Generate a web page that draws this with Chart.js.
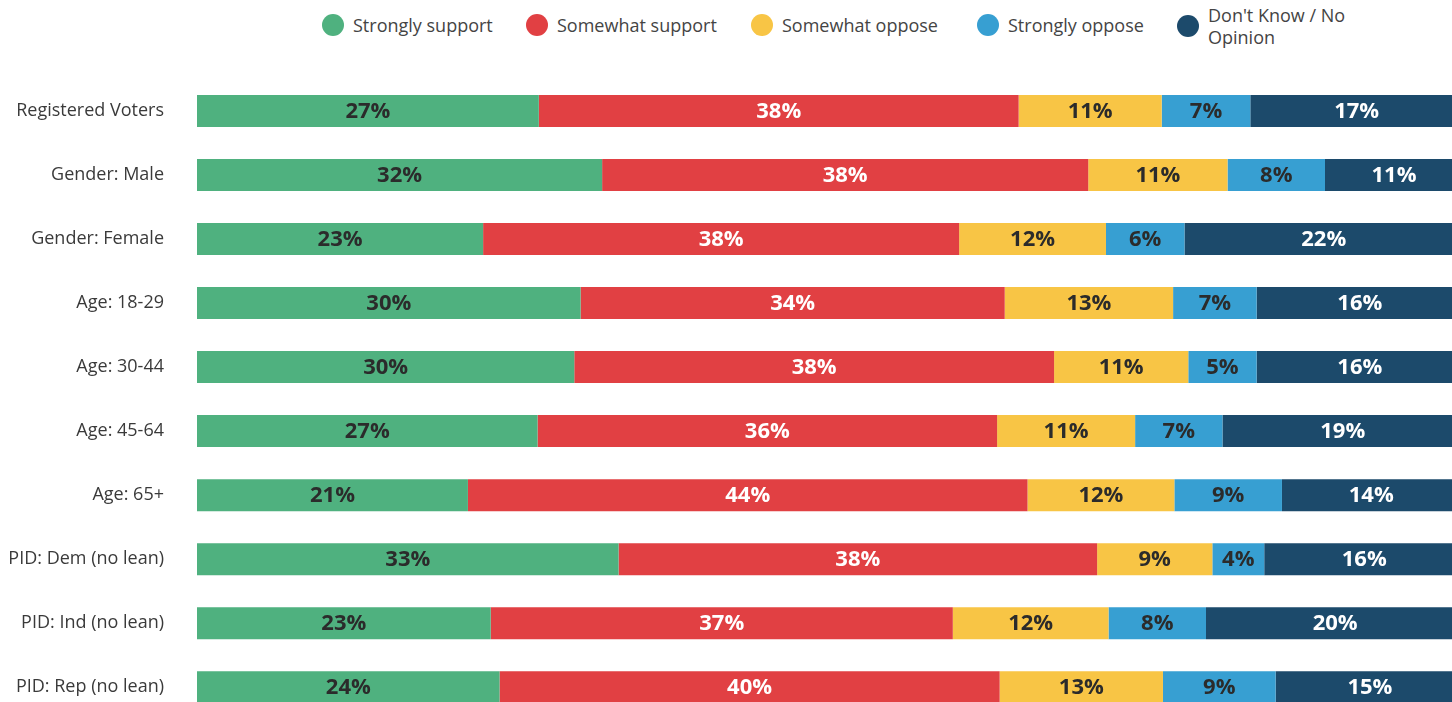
<!DOCTYPE html>
<html>
<head>
<meta charset="utf-8">
<script src="https://cdn.jsdelivr.net/npm/chart.js@4"></script>
<style>
  html, body { margin: 0; padding: 0; background: #fff; overflow: hidden; }
  body { width: 1452px; height: 702px; position: relative; font-family: "Open Sans", Lato, sans-serif; }
  #myChart { position: absolute; left: 0; top: 0; }
  .lg { position: absolute; top: 14px; display: flex; align-items: flex-start; color: #444; font-size: 18px; line-height: 22px; }
  .lg i { display: block; width: 22px; height: 22px; border-radius: 50%; margin-right: 9px; }
</style>
</head>
<body>
<div id="legend"></div>
<canvas id="myChart" width="1470" height="763"></canvas>
<script>
// groups (top to bottom)
var categories = ['Registered Voters', 'Gender: Male', 'Gender: Female', 'Age: 18-29', 'Age: 30-44',
                  'Age: 45-64', 'Age: 65+', 'PID: Dem (no lean)', 'PID: Ind (no lean)', 'PID: Rep (no lean)'];

// shares in percent (labels show them rounded)
var stronglySupport = [27.0, 32.0, 22.6, 30.3, 29.8, 26.9, 21.4, 33.3, 23.2, 23.9];
var somewhatSupport = [37.9, 38.4, 37.6, 33.5, 37.9, 36.3, 44.2, 37.8, 36.5, 39.5];
var somewhatOppose  = [11.3, 11.0, 11.6, 13.3, 10.6, 10.9, 11.6, 9.1, 12.3, 12.9];
var stronglyOppose  = [7.0, 7.7, 6.2, 6.6, 5.4, 6.9, 8.5, 4.1, 7.7, 8.9];
var dontKnow        = [16.8, 10.9, 22.0, 16.3, 16.3, 19.0, 14.1, 15.8, 20.4, 14.9];

var seriesNames = ['Strongly support', 'Somewhat support', 'Somewhat oppose', 'Strongly oppose', ["Don't Know / No", 'Opinion']];
var seriesColors = ['#4fb17f', '#e14043', '#f8c545', '#379fd2', '#1c4a6b'];
var labelColors = ['#2b2b2b', '#ffffff', '#2b2b2b', '#2b2b2b', '#ffffff'];
var legendLeft = [322, 526, 751, 977, 1177];

// html legend
var legend = document.getElementById('legend');
seriesNames.forEach(function(name, i) {
    var d = document.createElement('div');
    d.className = 'lg';
    d.style.left = legendLeft[i] + 'px';
    var dot = document.createElement('i');
    dot.style.background = seriesColors[i];
    var t = document.createElement('span');
    if (Array.isArray(name)) {
        t.innerHTML = name.join('<br>');
        d.style.top = '4px';
        dot.style.marginTop = '11px';
    } else {
        t.textContent = name;
    }
    d.appendChild(dot);
    d.appendChild(t);
    legend.appendChild(d);
});

// value labels in the middle of each segment
var segmentLabels = {
    id: 'segmentLabels',
    afterDatasetsDraw: function(chart) {
        var ctx = chart.ctx;
        ctx.save();
        ctx.font = 'bold 22px "Open Sans", Lato, sans-serif';
        ctx.textAlign = 'center';
        ctx.textBaseline = 'middle';
        chart.data.datasets.forEach(function(ds, i) {
            ctx.fillStyle = labelColors[i];
            chart.getDatasetMeta(i).data.forEach(function(bar, j) {
                ctx.fillText(Math.round(ds.data[j]) + '%', (bar.x + bar.base) / 2, bar.y + 1);
            });
        });
        ctx.restore();
    }
};

var allSeries = [stronglySupport, somewhatSupport, somewhatOppose, stronglyOppose, dontKnow];

var ctx = document.getElementById('myChart').getContext('2d');
var myChart = new Chart(ctx, {
    type: 'bar',
    data: {
        labels: categories,
        datasets: allSeries.map(function(vals, i) {
            return {
                label: Array.isArray(seriesNames[i]) ? seriesNames[i].join(' ') : seriesNames[i],
                data: vals,
                backgroundColor: seriesColors[i],
                borderWidth: 0,
                barPercentage: 0.5,
                categoryPercentage: 1.0,
            };
        }),
    },
    plugins: [segmentLabels],
    options: {
        indexAxis: 'y',
        responsive: false,
        animation: false,
        layout: { padding: { top: 79, bottom: 0, left: 0, right: 7 } },
        plugins: {
            legend: { display: false },
            tooltip: { enabled: false },
        },
        scales: {
            x: {
                stacked: true,
                min: 0,
                max: 100,
                display: false,
            },
            y: {
                stacked: true,
                grid: { display: false, drawTicks: false },
                border: { display: false },
                afterFit: function(scale) { scale.width = 197; },
                ticks: {
                    padding: 33,
                    color: '#3a3a3a',
                    font: { family: '"Open Sans", Lato, sans-serif', size: 18 },
                },
            },
        },
    },
});
</script>
</body>
</html>
